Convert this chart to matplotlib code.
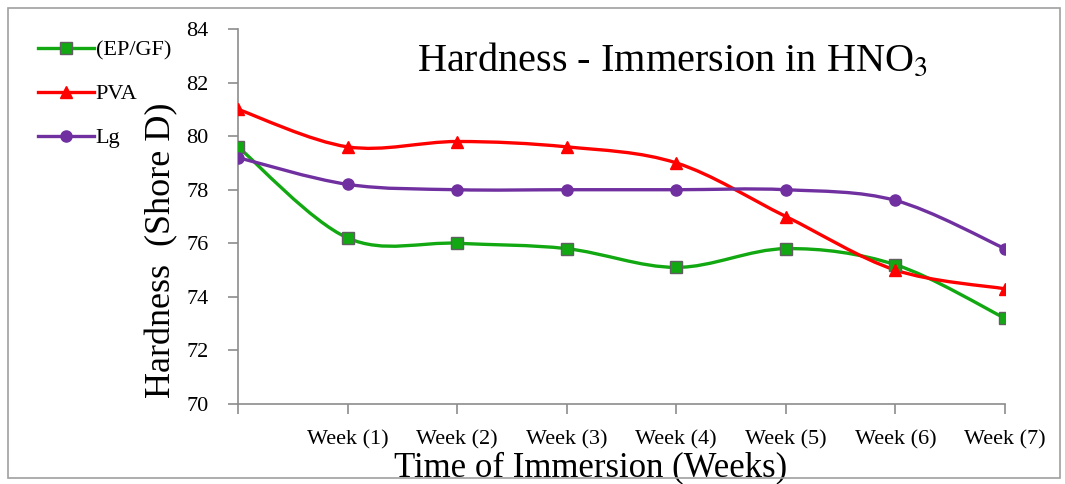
import numpy as np
import matplotlib.pyplot as plt
from matplotlib.path import Path
from matplotlib.patches import PathPatch, Rectangle

weeks = ["", "Week (1)", "Week (2)", "Week (3)", "Week (4)", "Week (5)", "Week (6)", "Week (7)"]
ep_gf = [79.6, 76.2, 76.0, 75.8, 75.1, 75.8, 75.2, 73.2]
pva = [81.0, 79.6, 79.8, 79.6, 79.0, 77.0, 75.0, 74.3]
lg = [79.2, 78.2, 78.0, 78.0, 78.0, 78.0, 77.6, 75.8]

plt.rcParams['font.family'] = ['Liberation Serif', 'DejaVu Serif']


def smooth_path(x, y):
    # Excel-like smoothed line: Catmull-Rom segments as cubic Bezier curves
    x = np.asarray(x, float); y = np.asarray(y, float)
    n = len(x)
    verts = [(x[0], y[0])]
    codes = [Path.MOVETO]
    for i in range(n - 1):
        i0 = max(i - 1, 0); i3 = min(i + 2, n - 1)
        c1 = (x[i] + (x[i+1] - x[i0]) / 6, y[i] + (y[i+1] - y[i0]) / 6)
        c2 = (x[i+1] - (x[i3] - x[i]) / 6, y[i+1] - (y[i3] - y[i]) / 6)
        verts += [c1, c2, (x[i+1], y[i+1])]
        codes += [Path.CURVE4] * 3
    return Path(verts, codes)


fig = plt.figure(figsize=(10.65, 4.84), dpi=100)
ax = fig.add_axes([238/1065, 1 - 404/484, (1005-238)/1065, (404-29)/484])

xs = np.arange(len(weeks))
series = [
    ("(EP/GF)", ep_gf, "#11a811", "s"),
    ("PVA", pva, "#ff0000", "^"),
    ("Lg", lg, "#7030a0", "o"),
]
for name, vals, col, mk in series:
    ax.add_patch(PathPatch(smooth_path(xs, vals), fill=False, edgecolor=col, lw=2.4, zorder=2))
    mec = "#606060" if mk == "s" else col
    ms = 8.5 if mk != "o" else 8
    ax.plot(xs, vals, linestyle="none", marker=mk, markersize=ms,
            markerfacecolor=col, markeredgecolor=mec, markeredgewidth=1.0, zorder=3)
    ax.plot([], [], color=col, lw=2.4, marker=mk, markersize=ms,
            markerfacecolor=col, markeredgecolor=mec, label=name)

ax.set_xlim(0, 7)
ax.set_ylim(70, 84)
ax.set_yticks(np.arange(70, 85, 2))
ax.set_xticks(xs)
ax.set_xticklabels(weeks)
for s in ["top", "right"]:
    ax.spines[s].set_visible(False)
for s in ["left", "bottom"]:
    ax.spines[s].set_color("#8c8c8c")
    ax.spines[s].set_linewidth(1.2)
ax.tick_params(axis="both", color="#8c8c8c", width=1.2, length=7)
ax.tick_params(axis="y", pad=14, labelsize=16)
ax.tick_params(axis="x", pad=12, labelsize=16)
ax.set_ylabel("Hardness  (Shore D)", fontsize=26)
ax.yaxis.set_label_coords(-0.078, 0.41)
ax.set_xlabel("Time of Immersion (Weeks)", fontsize=25)
ax.xaxis.set_label_coords(0.46, -0.125)

ax.text(0.566, 0.915, "Hardness - Immersion in HNO$_3$", transform=ax.transAxes,
        fontsize=29, ha="center", va="center", math_fontfamily="stix")

fig.legend(loc="upper left", bbox_to_anchor=(18/1065, 1 - 20/484), frameon=False,
           fontsize=16, handlelength=2.5, handletextpad=0.1, labelspacing=1.05)

fig.patches.append(Rectangle((8/1065, 1 - 478/484), 1052/1065, 470/484,
                             transform=fig.transFigure, fill=False, edgecolor="#a0a0a0", lw=1.2))

fig.savefig("out.png", dpi=100)
